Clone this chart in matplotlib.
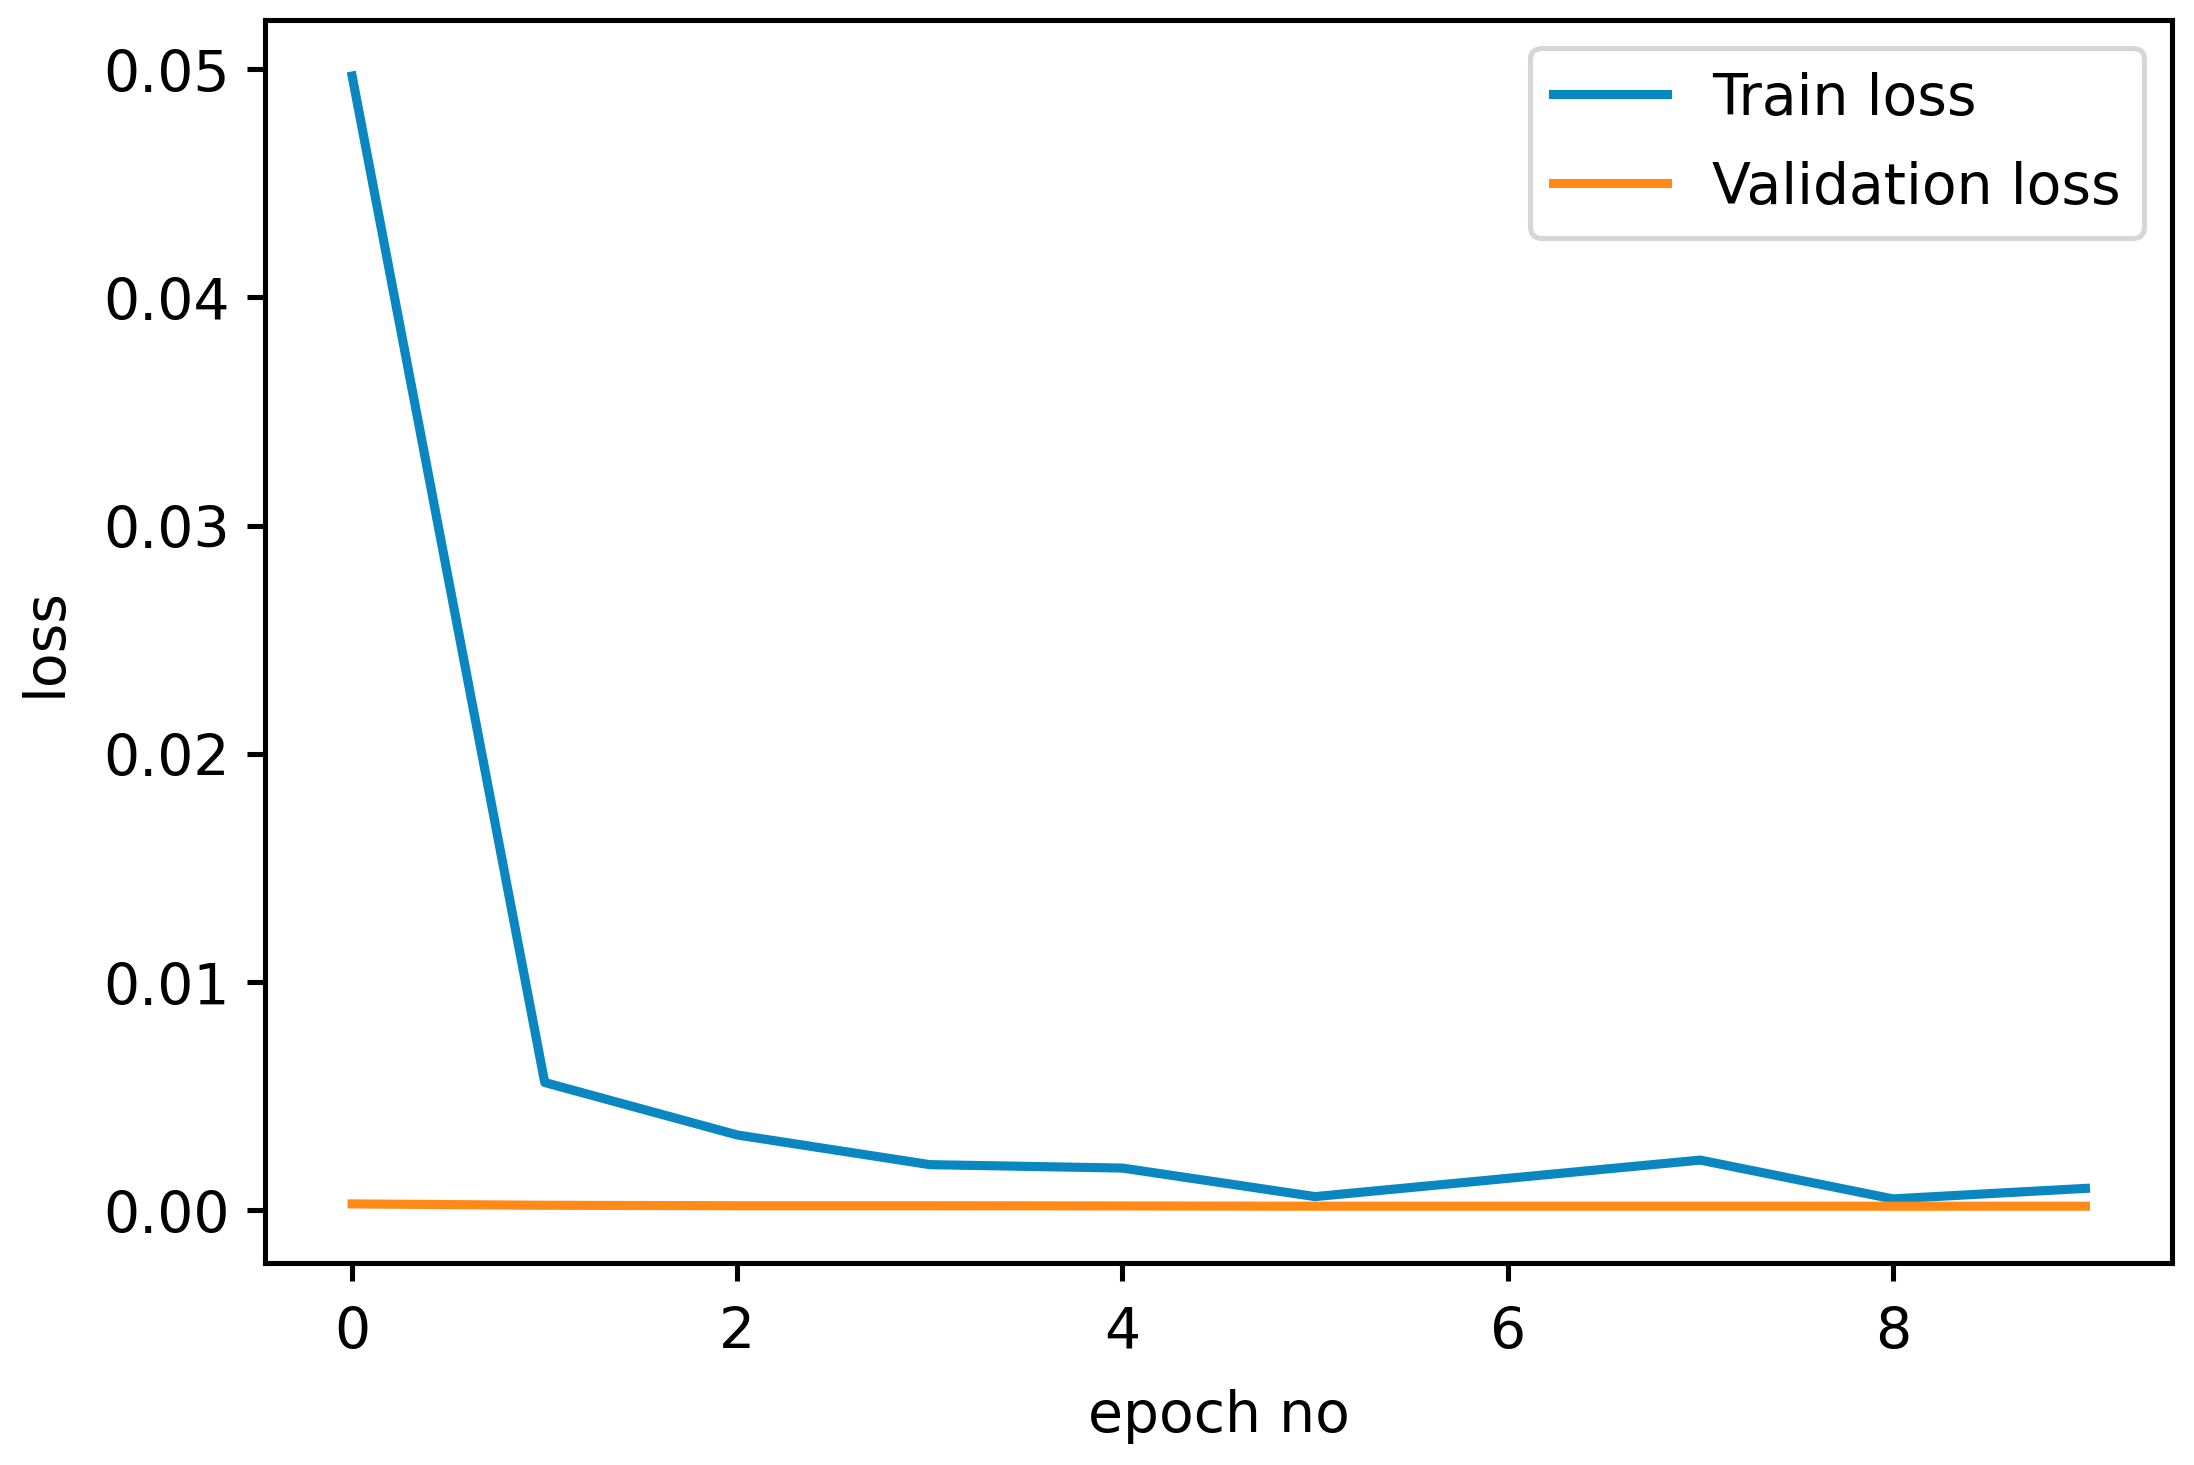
import matplotlib
matplotlib.use("Agg")
from matplotlib import pyplot as plt

epochs = list(range(10))
train_loss = [0.0497, 0.0056, 0.0033, 0.0020, 0.00185, 0.0006, 0.0014, 0.0022, 0.0005, 0.00096]
val_loss = [0.00028, 0.00022, 0.0002, 0.0002, 0.00019, 0.00018, 0.00018, 0.00018, 0.00018, 0.00018]

plt.rcParams["font.size"] = 11.2
plt.rcParams["axes.linewidth"] = 1.0
plt.rcParams["xtick.major.width"] = 1.0
plt.rcParams["ytick.major.width"] = 1.0
plt.rcParams["xtick.major.pad"] = 4.8

fig = plt.figure(figsize=(6, 4.009), dpi=365.67)
ax = fig.add_axes([0.121, 0.138, 0.869, 0.848])
ax.plot(epochs, train_loss, color="#0a87c0", lw=1.8, label="Train loss")
ax.plot(epochs, val_loss, color="#ff8a17", lw=1.8, label="Validation loss")
ax.set_xlabel("epoch no", labelpad=5.5)
ax.set_ylabel("loss", labelpad=6)
ax.legend(loc="upper right", labelspacing=0.6, borderaxespad=0.5)

fig.savefig("out.png", dpi=365.67)
